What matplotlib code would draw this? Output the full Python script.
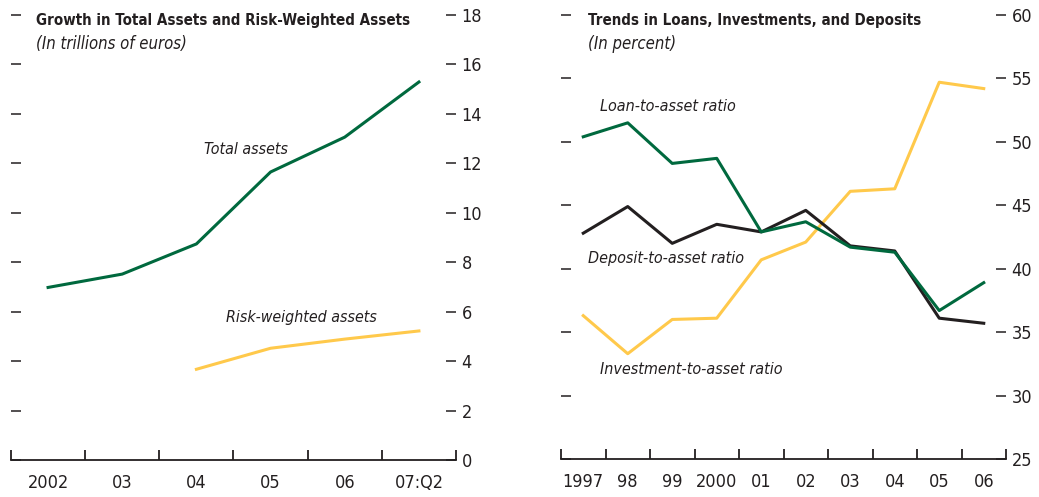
import matplotlib
matplotlib.use("Agg")
import matplotlib.pyplot as plt
import numpy as np

plt.rcParams['font.family'] = ['DejaVu Sans']
plt.rcParams['font.stretch'] = 'condensed'

# left panel data (trillions of euros)
years_l = ["2002", "03", "04", "05", "06", "07:Q2"]
total_assets = [6.98, 7.52, 8.74, 11.65, 13.06, 15.29]
rwa_years = ["04", "05", "06", "07:Q2"]
risk_weighted = [3.67, 4.52, 4.89, 5.22]

# right panel data (percent)
years_r = ["1997", "98", "99", "2000", "01", "02", "03", "04", "05", "06"]
loan_ratio = [50.4, 51.5, 48.3, 48.7, 42.9, 43.7, 41.7, 41.3, 36.7, 38.9]
deposit_ratio = [42.8, 44.9, 42.0, 43.5, 42.9, 44.6, 41.8, 41.4, 36.1, 35.7]
invest_ratio = [36.3, 33.3, 36.0, 36.1, 40.7, 42.1, 46.1, 46.3, 54.7, 54.2]

GREEN = "#00693E"
YELLOW = "#FFC94B"
BLACK = "#231F20"
TXT = "#231F20"

fig = plt.figure(figsize=(10.39, 4.97), dpi=100)
ax1 = fig.add_axes([11/1039, 37/497, 445/1039, 445/497])
ax2 = fig.add_axes([561/1039, 38/497, 445/1039, 444/497])


def style(ax, n, labels):
    for s in ["left", "right", "top"]:
        ax.spines[s].set_visible(False)
    ax.spines["bottom"].set_color(TXT)
    ax.spines["bottom"].set_linewidth(1.3)
    ax.set_xlim(-0.5, n - 0.5)
    ax.set_xticks(np.arange(n + 1) - 0.5)
    ax.set_xticklabels([])
    ax.set_xticks(np.arange(n), minor=True)
    ax.set_xticklabels(labels, minor=True)
    ax.tick_params(axis="x", which="major", direction="in", length=7.5,
                   width=1.3, color=TXT)
    ax.tick_params(axis="x", which="minor", length=0, pad=10,
                   labelsize=13, labelcolor=TXT)
    ax.tick_params(axis="y", left=True, right=True, labelleft=False,
                   labelright=True, direction="in", length=7.5, width=1.1,
                   color=TXT, labelsize=13, labelcolor=TXT, pad=4)


# left panel
x1 = np.arange(len(years_l))
ax1.plot(x1, total_assets, color=GREEN, lw=2.2)
xr = [years_l.index(y) for y in rwa_years]
ax1.plot(xr, risk_weighted, color=YELLOW, lw=2.2)
ax1.set_ylim(0, 18)
ax1.set_yticks(np.arange(0, 19, 2))
style(ax1, len(years_l), years_l)
ax1.text(2.67, 12.54, "Total assets", style="italic", fontsize=11.4,
         color=TXT, ha="center", va="center")
ax1.text(3.42, 5.78, "Risk-weighted assets", style="italic", fontsize=11.4,
         color=TXT, ha="center", va="center")
fig.text(36/1039, 1 - 20/497, "Growth in Total Assets and Risk-Weighted Assets",
         fontsize=10.8, fontweight="bold", color=TXT, va="center")
fig.text(36/1039, 1 - 44/497, "(In trillions of euros)", fontsize=12,
         style="italic", color=TXT, va="center")

# right panel
x2 = np.arange(len(years_r))
ax2.plot(x2, invest_ratio, color=YELLOW, lw=2.2)
ax2.plot(x2, deposit_ratio, color=BLACK, lw=2.2)
ax2.plot(x2, loan_ratio, color=GREEN, lw=2.2)
ax2.set_ylim(25, 60)
ax2.set_yticks(np.arange(25, 61, 5))
style(ax2, len(years_r), years_r)
ax2.text(0.376, 52.8, "Loan-to-asset ratio", style="italic", fontsize=11.5,
         color=TXT, ha="left", va="center")
ax2.text(0.107, 40.84, "Deposit-to-asset ratio", style="italic", fontsize=11.5,
         color=TXT, ha="left", va="center")
ax2.text(0.376, 32.09, "Investment-to-asset ratio", style="italic", fontsize=11.5,
         color=TXT, ha="left", va="center")
fig.text(588/1039, 1 - 20/497, "Trends in Loans, Investments, and Deposits",
         fontsize=10.8, fontweight="bold", color=TXT, va="center")
fig.text(588/1039, 1 - 44/497, "(In percent)", fontsize=12,
         style="italic", color=TXT, va="center")

fig.savefig("out.png", dpi=100)
